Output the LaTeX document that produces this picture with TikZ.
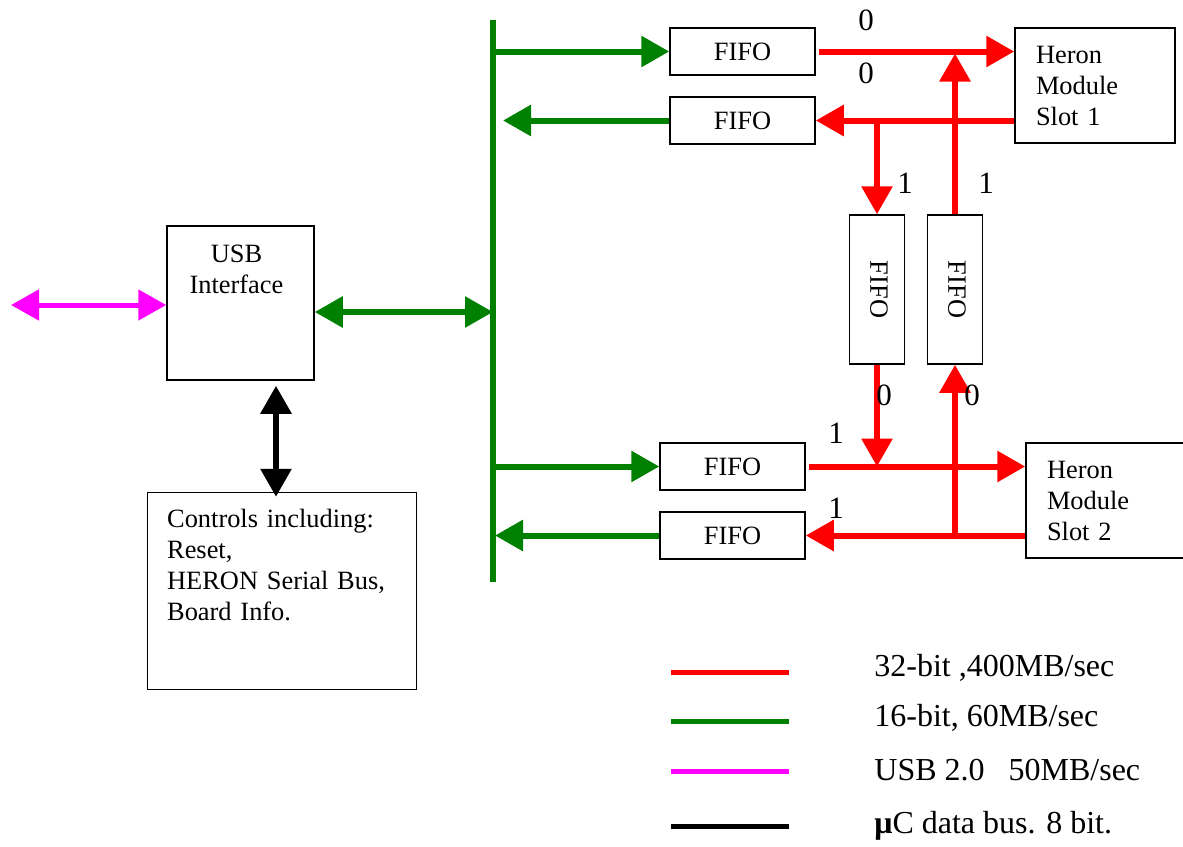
\documentclass[tikz,border=0pt]{standalone}
\usepackage{fontspec}
\setmainfont{Liberation Serif}
\usetikzlibrary{arrows.meta}
\definecolor{usbpink}{RGB}{255,0,255}
\definecolor{busgreen}{RGB}{0,128,0}

\begin{document}
\begin{tikzpicture}[
    x=0.5pt, y=-0.5pt,
    >={Triangle[length=14pt,width=15pt]},
    every node/.style={font=\fontsize{13.2}{15.5}\selectfont},
    box/.style={
        rectangle,
        draw=black,
        line width=0.75pt,
        inner sep=0pt,
        align=center
    },
    fifo/.style={box, minimum width=72.5pt, minimum height=23.5pt},
    vfifo/.style={box, minimum width=27.5pt, minimum height=74.5pt},
    heron/.style={box, minimum height=57.5pt, text width=#1, align=left, inner xsep=10.5pt},
    num/.style={font=\fontsize{15.5}{18}\selectfont, inner sep=0pt},
    bus32/.style={->, line width=3pt, red},
    bus16/.style={line width=3pt, busgreen},
    usblink/.style={<->, line width=2.5pt, usbpink},
    ucbus/.style={<->, line width=3pt, black},
    legline/.style={line width=2.5pt},
    legtext/.style={font=\fontsize{16}{19}\selectfont, anchor=west, inner sep=0pt}
]
\useasboundingbox (0,0) rectangle (1183,846);
\clip (0,0) rectangle (1183,846);

% USB side
\node[box, minimum width=73.5pt, minimum height=77pt,
      label={[anchor=north, align=center, inner sep=0pt, yshift=-9.5pt, xshift=-2pt]north:USB\\Interface}]
      (usb) at (240.5,303) {};
\node[box, minimum width=134.5pt, minimum height=98.5pt,
      label={[anchor=north west, align=left, text width=114pt, inner sep=0pt, xshift=10pt, yshift=-8.5pt]north west:{Controls including:\\Reset,\\\makebox[114pt][s]{HERON Serial Bus,}\\Board Info.}}]
      (ctrl) at (282,591) {};

% FIFOs
\node[fifo] (fifoA) at (742.5,51.5)  {FIFO};
\node[fifo] (fifoB) at (742.5,120.5) {FIFO};
\node[vfifo] (fifoC) at (877,289.5)  {\hspace{2pt}\rotatebox{-90}{FIFO}};
\node[vfifo] (fifoD) at (955,289.5)  {\hspace{2pt}\rotatebox{-90}{FIFO}};
\node[fifo] (fifoE) at (732.5,466.5) {FIFO};
\node[fifo] (fifoF) at (732.5,535.5) {FIFO};

% Heron module slots
\node[heron=59pt] (heron1) at (1095,85.5)  {Heron\\Module\\Slot 1};
\node[heron=70pt] (heron2) at (1117,500.5) {Heron\\Module\\Slot 2};

% 16-bit bus
\coordinate (busTop) at (493,20);
\coordinate (busBot) at (493,582);
\draw[bus16] (busTop) -- (busBot);
\draw[bus16, ->] (fifoA.west -| busTop) -- (fifoA.west);
\draw[bus16, ->] (fifoB.west) -- ([xshift=5pt]fifoB.west -| busTop);
\draw[bus16, ->] (fifoE.west -| busTop) -- (fifoE.west);
\draw[bus16, ->] (fifoF.west) -- ([xshift=1pt]fifoF.west -| busTop);
\draw[bus16, <->] ([yshift=-4.5pt]usb.east) -- ([yshift=-4.5pt]usb.east -| busTop);

% USB host link and uC bus
\coordinate (host) at (11,305);
\draw[usblink] (host) -- (host -| usb.west);
\draw[ucbus] ([shift={(35.5,5)}]usb.south) -- ([shift={(35.5,5)}]usb.south |- ctrl.north);

% 32-bit links
\draw[bus32, shorten <=1.5pt] (fifoA.east) -- (fifoA.east -| heron1.west);
\draw[bus32] (fifoB.east -| heron1.west) -- (fifoB.east);
\draw[bus32] (fifoB.east -| fifoC.north) -- (fifoC.north);
\draw[bus32] (fifoD.north) -- ([yshift=-1pt]fifoA.east -| fifoD.north);
\draw[bus32] (fifoC.south) -- (fifoE.east -| fifoC.south);
\draw[bus32, shorten <=1.5pt] (fifoE.east) -- (fifoE.east -| heron2.west);
\draw[bus32] (fifoF.east -| heron2.west) -- (fifoF.east);
\draw[bus32] (fifoF.east -| fifoD.south) -- (fifoD.south);

% Port numbers
\node[num] (pA) at (866,20)  {0};
\node[num] (pB) at (866,73)  {0};
\node[num] (pC) at (905,183) {1};
\node[num] (pD) at (986,183) {1};
\node[num] (pE) at (884,395) {0};
\node[num] (pF) at (972,395) {0};
\node[num] (pG) at (836,433) {1};
\node[num] (pH) at (836,508) {1};

% Legend
\node[legtext] (leg32) at (874,668) {32-bit ,400MB/sec};
\node[legtext] (leg16) at (874,718) {16-bit, 60MB/sec};
\node[legtext] (legusb) at (874,770) {USB 2.0\ \ \ 50MB/sec};
\node[legtext] (leguc) at (874,826) {{\bfseries μ}C data bus. 8 bit.};
\coordinate (lg1) at (671,672);
\coordinate (lg2) at (671,721);
\coordinate (lg3) at (671,771);
\coordinate (lg4) at (671,826);
\draw[legline, red] (lg1) -- ++(118,0);
\draw[legline, busgreen] (lg2) -- ++(118,0);
\draw[legline, usbpink] (lg3) -- ++(118,0);
\draw[legline, black] (lg4) -- ++(118,0);

\end{tikzpicture}
\end{document}
